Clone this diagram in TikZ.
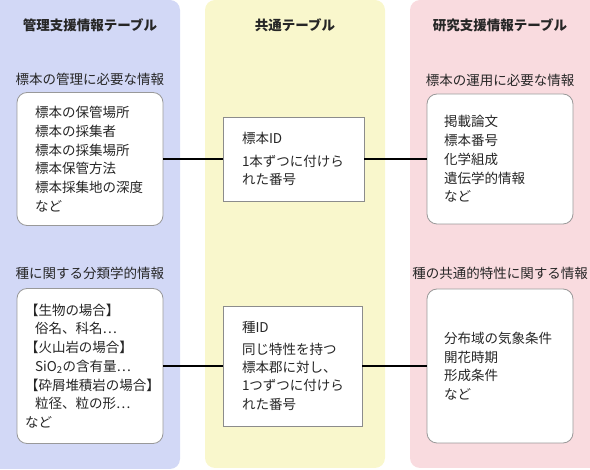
\documentclass[tikz,border=0pt]{standalone}
\usepackage{fontspec}
\setmainfont{Noto Sans CJK JP}
\usetikzlibrary{positioning}
\definecolor{kanriblue}{RGB}{210,216,246}
\definecolor{kyoyellow}{RGB}{249,247,204}
\definecolor{kenpink}{RGB}{249,219,223}
\tikzstyle{panel} = [rounded corners=10pt]
\tikzstyle{title} = [font=\bfseries\fontsize{13.5}{16}\selectfont, text=black!85]
\tikzstyle{sublabel} = [font=\fontsize{13.5}{16}\selectfont, text=black!85]
\tikzstyle{infobox} = [rectangle, rounded corners=10pt, draw=black!40, fill=white, line width=0.8pt, align=left, minimum width=146pt, font=\fontsize{13.5}{18.7}\selectfont, text=black!85]
\tikzstyle{idbox} = [rectangle, draw=black!45, fill=white, line width=0.8pt, align=left, font=\fontsize{13.5}{18.3}\selectfont, text=black!85]
\tikzstyle{link} = [line width=1.4pt, black]

\begin{document}
\begin{tikzpicture}[x=1pt, y=-1pt]
	\useasboundingbox (0,0) rectangle (590,470);
	\fill [panel, kanriblue] (-20,0) rectangle (180,469);
	\fill [panel, kyoyellow] (205,0) rectangle (385,468);
	\fill [panel, kenpink] (410,0) rectangle (610,468);
	
	\node (kanrihead) [title] at (90,25) {管理支援情報テーブル};
	\node (kyohead) [title] at (295,25) {共通テーブル};
	\node (kenhead) [title] at (500,25) {研究支援情報テーブル};
	
	\node (kanribox) [infobox, minimum height=133pt, inner xsep=18pt, text width=110pt] at (90,159) {標本の保管場所\\標本の採集者\\標本の採集場所\\標本保管方法\\標本採集地の深度\\など};
	\node (bunruibox) [infobox, minimum height=155pt, inner xsep=8pt, text width=130pt] at (90,366) {【生物の場合】\\\hspace*{10pt}俗名、科名⋯\\【火山岩の場合】\\\hspace*{10pt}SiO\textsubscript{2}の含有量⋯\\【砕屑堆積岩の場合】\\\hspace*{10pt}粒径、粒の形⋯\\など};
	\node (hyohonid) [idbox, minimum width=141pt, minimum height=84pt, inner xsep=19pt, text width=103pt] at (293.5,159) {標本ID\\[5pt]1本ずつに付けら\\れた番号};
	\node (shuid) [idbox, minimum width=139pt, minimum height=120pt, inner xsep=19pt, text width=101pt] at (292.5,366) {種ID\\[3pt]同じ特性を持つ\\標本郡に対し、\\1つずつに付けら\\れた番号};
	\node (unyobox) [infobox, minimum height=130pt, inner xsep=17pt, text width=112pt] at (500,159) {掲載論文\\標本番号\\化学組成\\遺伝学的情報\\など};
	\node (tokuseibox) [infobox, minimum height=154pt, inner xsep=17pt, text width=112pt] at (500,366) {分布域の気象条件\\開花時期\\形成条件\\など};
	
	\node (kanrisub) [sublabel, above=3pt of kanribox] {標本の管理に必要な情報};
	\node (bunruisub) [sublabel, above=5pt of bunruibox] {種に関する分類学的情報};
	\node (unyosub) [sublabel, above=3pt of unyobox] {標本の運用に必要な情報};
	\node (tokuseisub) [sublabel, above=5pt of tokuseibox] {種の共通的特性に関する情報};
	
	\draw [link] (kanribox) -- (hyohonid);
	\draw [link] (hyohonid) -- (unyobox);
	\draw [link] (bunruibox) -- (shuid);
	\draw [link] (shuid) -- (tokuseibox);
\end{tikzpicture}
\end{document}
